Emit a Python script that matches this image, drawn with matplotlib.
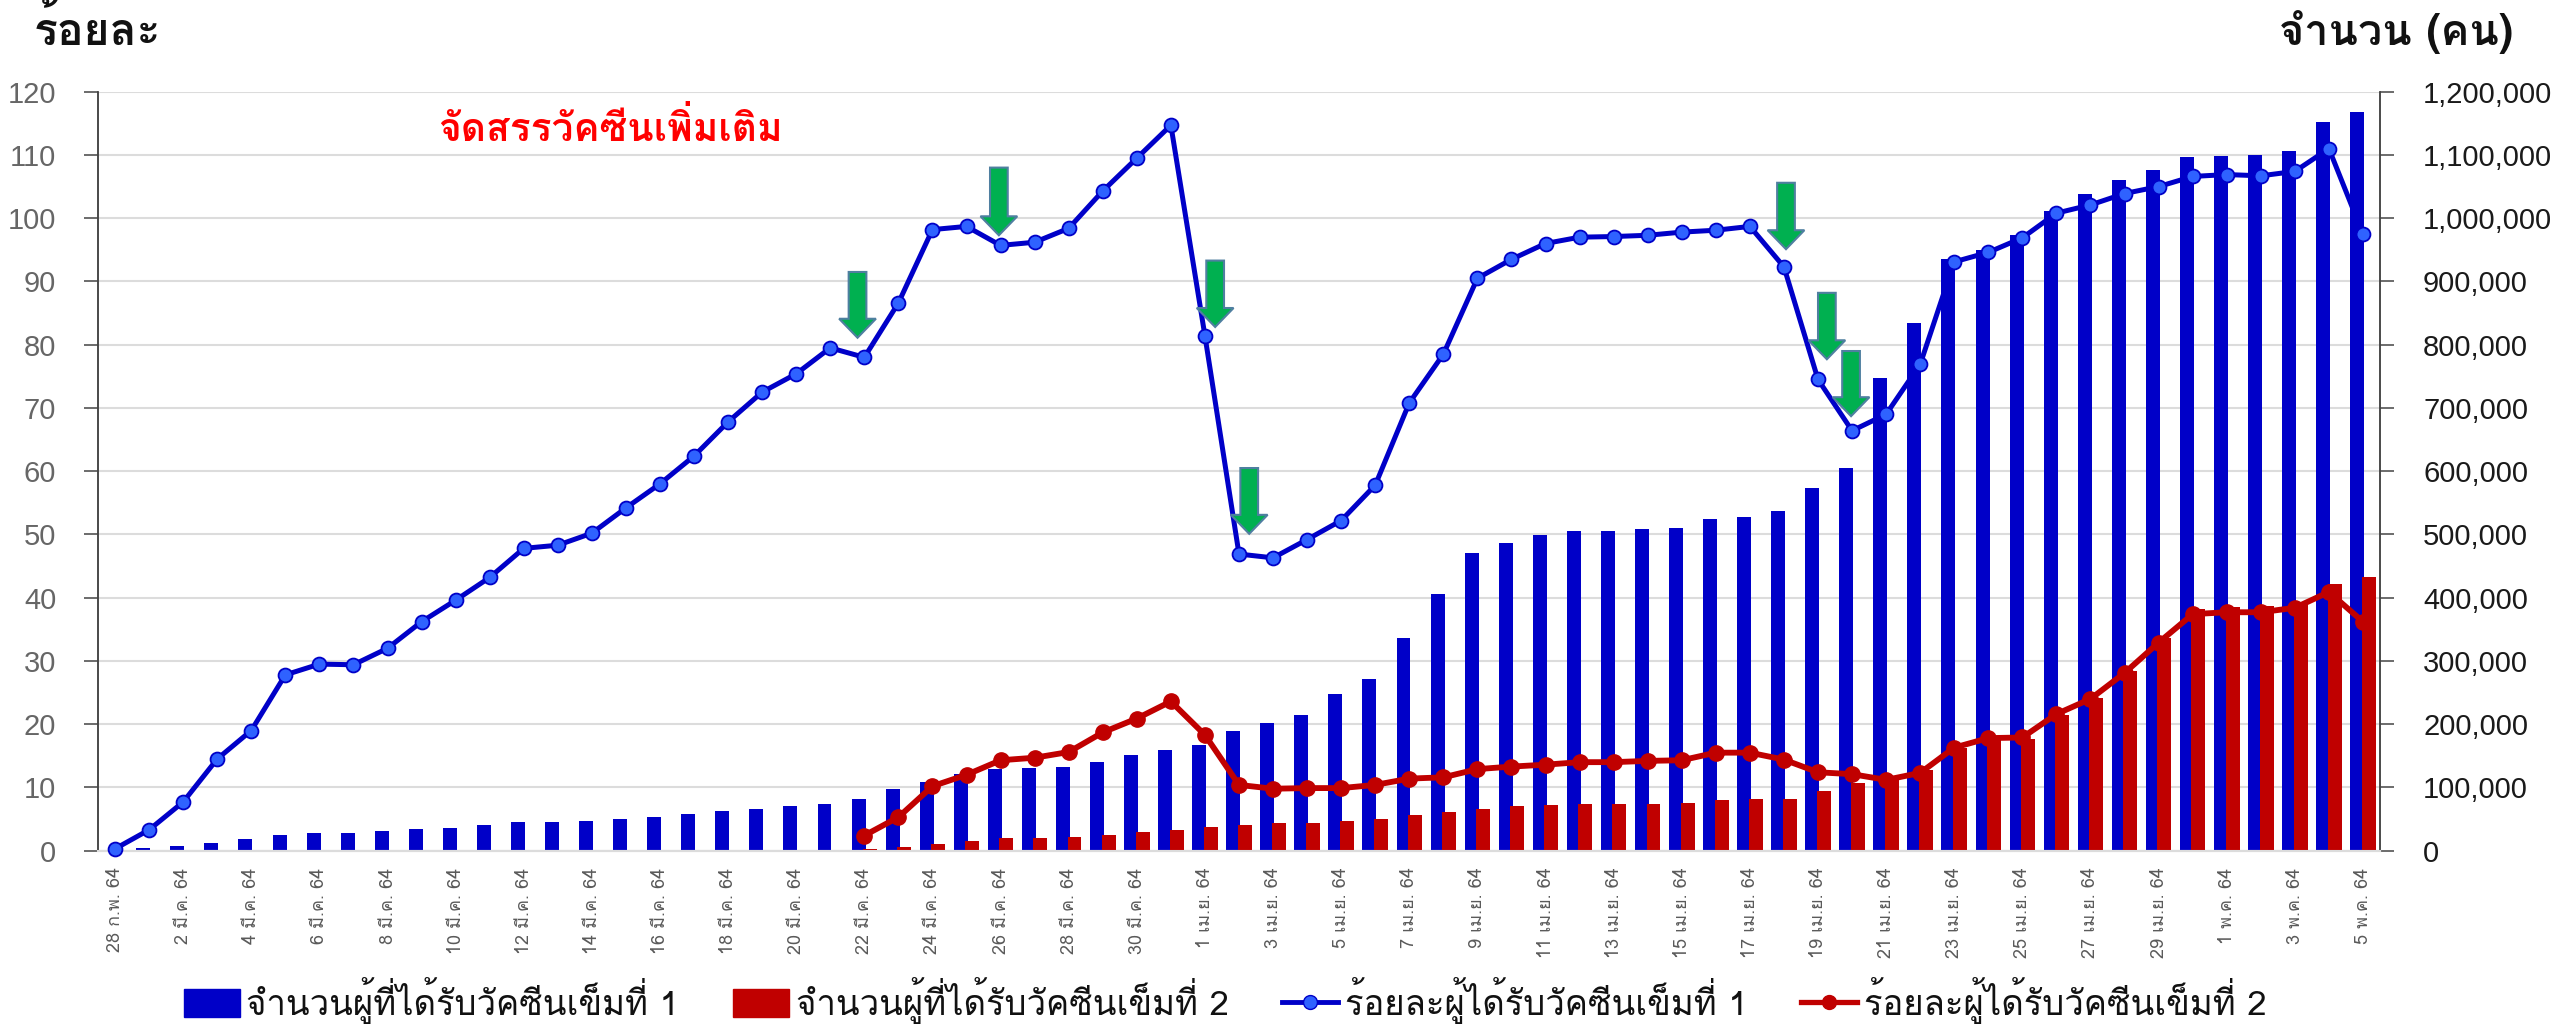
import numpy as np
import matplotlib
matplotlib.use('Agg')
import matplotlib.pyplot as plt
from matplotlib.patches import Patch
from matplotlib.lines import Line2D

plt.rcParams['font.family'] = ['Loma', 'DejaVu Sans']
NUMBERS = ['Liberation Sans', 'DejaVu Sans']

W, H = 2560, 1026

# labels, every second day
date_labels = [
    '28 ก.พ. 64', '2 มี.ค. 64', '4 มี.ค. 64', '6 มี.ค. 64', '8 มี.ค. 64', '10 มี.ค. 64',
    '12 มี.ค. 64', '14 มี.ค. 64', '16 มี.ค. 64', '18 มี.ค. 64', '20 มี.ค. 64', '22 มี.ค. 64',
    '24 มี.ค. 64', '26 มี.ค. 64', '28 มี.ค. 64', '30 มี.ค. 64', '1 เม.ย. 64', '3 เม.ย. 64',
    '5 เม.ย. 64', '7 เม.ย. 64', '9 เม.ย. 64', '11 เม.ย. 64', '13 เม.ย. 64', '15 เม.ย. 64',
    '17 เม.ย. 64', '19 เม.ย. 64', '21 เม.ย. 64', '23 เม.ย. 64', '25 เม.ย. 64', '27 เม.ย. 64',
    '29 เม.ย. 64', '1 พ.ค. 64', '3 พ.ค. 64', '5 พ.ค. 64',
]

dose1_count = [
    1500, 3700, 7400, 12600, 17900, 25300, 27400, 27400, 30600, 34300,
    35800, 40000, 44800, 44800, 46900, 50600, 53700, 57400, 62700, 66400,
    70100, 73300, 82200, 97000, 109000, 121000, 129000, 130700, 132800, 141000,
    152000, 159000, 166500, 189700, 202400, 214500, 248000, 272000, 336000, 406000,
    470700, 487000, 499000, 506000, 506000, 508000, 510000, 524000, 528000, 537000,
    573000, 604500, 748000, 835000, 935000, 950000, 973000, 1012000, 1039000, 1060000,
    1076000, 1096000, 1098000, 1100000, 1107000, 1152000, 1168000,
]
dose2_count = [0] * 22 + [
    2000, 5800, 11000, 14800, 20000, 20000, 21600, 25300, 29000, 32700,
    37400, 41100, 43200, 43200, 46900, 50600, 55900, 61200, 66400, 70100,
    71700, 73800, 73800, 73800, 75400, 80600, 82200, 82200, 95000, 107000,
    118000, 127000, 163000, 178000, 177000, 215000, 241000, 284000, 337000, 382000,
    386000, 387000, 391500, 422000, 433000,
]
dose1_pct = [
    0.3, 3.3, 7.7, 14.5, 19.0, 27.8, 29.5, 29.4, 32.0, 36.2,
    39.6, 43.2, 47.8, 48.3, 50.2, 54.2, 58.0, 62.4, 67.8, 72.5,
    75.4, 79.5, 78.0, 86.6, 98.2, 98.7, 95.7, 96.2, 98.4, 104.3,
    109.5, 114.7, 81.4, 46.9, 46.3, 49.2, 52.2, 57.8, 70.8, 78.5,
    90.5, 93.5, 96.0, 97.0, 97.1, 97.3, 97.8, 98.1, 98.7, 92.3,
    74.5, 66.4, 69.0, 76.9, 93.1, 94.6, 96.9, 100.8, 102.1, 103.9,
    105.0, 106.6, 106.9, 106.7, 107.4, 111.0, 97.5,
]
dose2_pct = [np.nan] * 22 + [
    2.4, 5.3, 10.2, 12.0, 14.3, 14.7, 15.6, 18.7, 20.9, 23.6,
    18.3, 10.4, 9.8, 9.9, 9.9, 10.4, 11.4, 11.6, 12.9, 13.3,
    13.6, 14.0, 14.0, 14.2, 14.3, 15.5, 15.5, 14.4, 12.4, 12.1,
    11.2, 12.3, 16.3, 17.8, 17.9, 21.6, 24.0, 28.1, 32.9, 37.4,
    37.7, 37.7, 38.4, 40.9, 36.2,
]

# green arrows: category position, top and tip on the percent axis
arrow_x = [21.8, 25.95, 32.3, 33.3, 49.06, 50.26, 50.97]
arrow_top = [91.5, 108.0, 93.3, 60.5, 105.6, 88.2, 79.0]
arrow_tip = [81.1, 97.3, 82.8, 50.1, 95.1, 77.7, 68.7]

BLUE = '#0000C8'
RED = '#C00000'

x = np.arange(len(dose1_count))

fig = plt.figure(figsize=(W / 100, H / 100), dpi=100)
ax = fig.add_axes([98 / W, 1 - 850.7 / H, (2380 - 98) / W, (850.7 - 91.7) / H])

ax.bar(x - 0.17, dose1_count, width=0.41, color=BLUE, zorder=2)
ax.bar(x + 0.17, dose2_count, width=0.41, color=RED, zorder=3)
ax.set_xlim(-0.5, len(x) - 0.5)
ax.set_ylim(0, 1200000)
ax.set_yticks(np.arange(0, 1200001, 100000))
ax.set_yticklabels([f'{v:,}' for v in np.arange(0, 1200001, 100000)], family=NUMBERS)
ax.set_xticks(x[::2])
ax.set_xticklabels(date_labels, rotation=90, fontsize=13, color='#5a5a5a')
ax.tick_params(axis='x', length=0, pad=12)
ax.grid(axis='y', color='#DCDCDC', lw=1.5, zorder=0)
ax.set_axisbelow(True)

ax_pct = ax.twinx()
ax.yaxis.tick_right()
ax_pct.yaxis.tick_left()
ax.tick_params(axis='y', length=10, width=1.1, color='#444444', pad=21, labelsize=21, labelcolor='#1a1a1a')
ax_pct.set_xlim(ax.get_xlim())
ax_pct.set_ylim(0, 120)
ax_pct.set_yticks(np.arange(0, 121, 10))
ax_pct.set_yticklabels([str(v) for v in np.arange(0, 121, 10)], family=NUMBERS)
ax_pct.tick_params(axis='y', length=10, width=1.1, color='#444444', pad=20, labelsize=21, labelcolor='#666666')
ax_pct.plot(x, dose1_pct, color=BLUE, lw=3.6, marker='o', ms=10, mfc='#2F62FF', mec=BLUE, mew=1.3,
            zorder=4, clip_on=False)
ax_pct.plot(x, dose2_pct, color=RED, lw=4.2, marker='o', ms=11, mfc=RED, mec=RED,
            zorder=5, clip_on=False)

for ar_x, ar_top, ar_tip in zip(arrow_x, arrow_top, arrow_tip):
    ax_pct.arrow(ar_x, ar_top, 0, ar_tip - ar_top, width=0.52, head_width=1.08, head_length=3.0,
                 length_includes_head=True, fc='#00B050', ec='#4F7FA0', lw=1.5, zorder=6)

for a in (ax, ax_pct):
    a.spines['top'].set_visible(False)
    a.spines['bottom'].set_color('#DCDCDC')
    a.spines['bottom'].set_linewidth(1.5)
    a.spines['left'].set_color('#444444')
    a.spines['right'].set_color('#444444')
    a.spines['left'].set_linewidth(1.1)
    a.spines['right'].set_linewidth(1.1)

fig.text(34 / W, 1 - 45 / H, 'ร้อยละ', fontsize=32, fontweight='bold', color='#111111')
fig.text(2279 / W, 1 - 45 / H, 'จำนวน (คน)', fontsize=31, fontweight='bold', color='#111111')
fig.text(438 / W, 1 - 141 / H, 'จัดสรรวัคซีนเพิ่มเติม', fontsize=28, fontweight='bold', color='#FF0000')

handles = [
    Patch(color=BLUE),
    Patch(color=RED),
    Line2D([], [], color=BLUE, lw=3.5, marker='o', ms=10, mfc='#2F62FF', mec=BLUE),
    Line2D([], [], color=RED, lw=3.8, marker='o', ms=10, mfc=RED, mec=RED),
]
labels = ['จำนวนผู้ที่ได้รับวัคซีนเข็มที่ 1', 'จำนวนผู้ที่ได้รับวัคซีนเข็มที่ 2',
          'ร้อยละผู้ได้รับวัคซีนเข็มที่ 1', 'ร้อยละผู้ได้รับวัคซีนเข็มที่ 2']
fig.legend(handles, labels, loc='lower left', bbox_to_anchor=(184 / W, 1 - 1024 / H), ncol=4,
           frameon=False, fontsize=25, borderpad=0, borderaxespad=0, handlelength=1.6,
           handleheight=0.85, handletextpad=0.2, columnspacing=1.55, labelcolor='#111111')

fig.savefig('out.png', dpi=100)
